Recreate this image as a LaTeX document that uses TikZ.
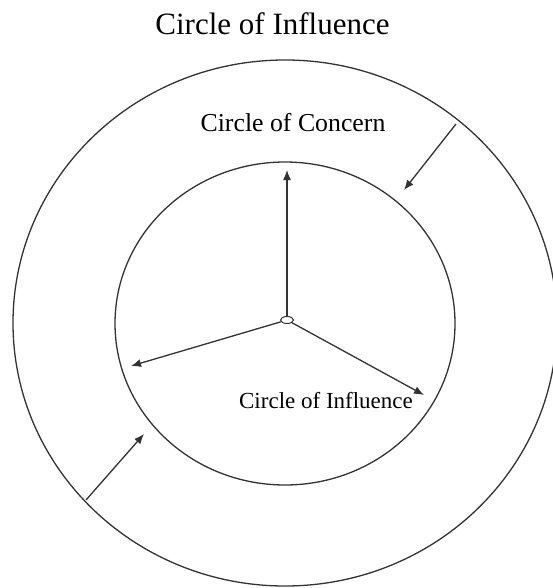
\documentclass[tikz,border=0pt]{standalone}
\usepackage{fontspec}
\setmainfont{Liberation Serif}
\usetikzlibrary{arrows.meta,shapes.geometric}

\begin{document}
\begin{tikzpicture}[x=1pt,y=-1pt,
    ring/.style={draw=black!80,line width=1.3pt},
    arr/.style={ring,-{Latex[length=10pt,width=8pt]}},
    lbl/.style={anchor=base,inner sep=0pt}]
  \useasboundingbox (0,0) rectangle (553,588);
  \draw[ring] (285,323) ellipse[x radius=272,y radius=263];
  \draw[ring] (285,323.5) ellipse[x radius=170,y radius=161.5];
  \node[ring,ellipse,line width=1pt,inner sep=0pt,
    minimum width=13pt,minimum height=7pt] (hub) at (287,320) {};
  \coordinate (up) at (287,170);
  \coordinate (lt) at (131,366);
  \coordinate (rt) at (424,395);
  \draw[arr] (hub) -- (up);
  \draw[arr] (hub) -- (lt);
  \draw[arr] (hub) -- (rt);
  \coordinate (tr) at (456,124);
  \coordinate (trin) at (404,190);
  \coordinate (bl) at (86,500);
  \coordinate (blin) at (144,434);
  \draw[arr] (tr) -- (trin);
  \draw[arr] (bl) -- (blin);
  \node[lbl,font=\fontsize{31}{31}\selectfont] (title) at (272.5,35) {Circle of Influence};
  \node[lbl,font=\fontsize{25.8}{26}\selectfont] (concern) at (293,132) {Circle of Concern};
  \node[lbl,font=\fontsize{23}{23}\selectfont] (influence) at (326,408) {Circle of Influence};
\end{tikzpicture}
\end{document}
